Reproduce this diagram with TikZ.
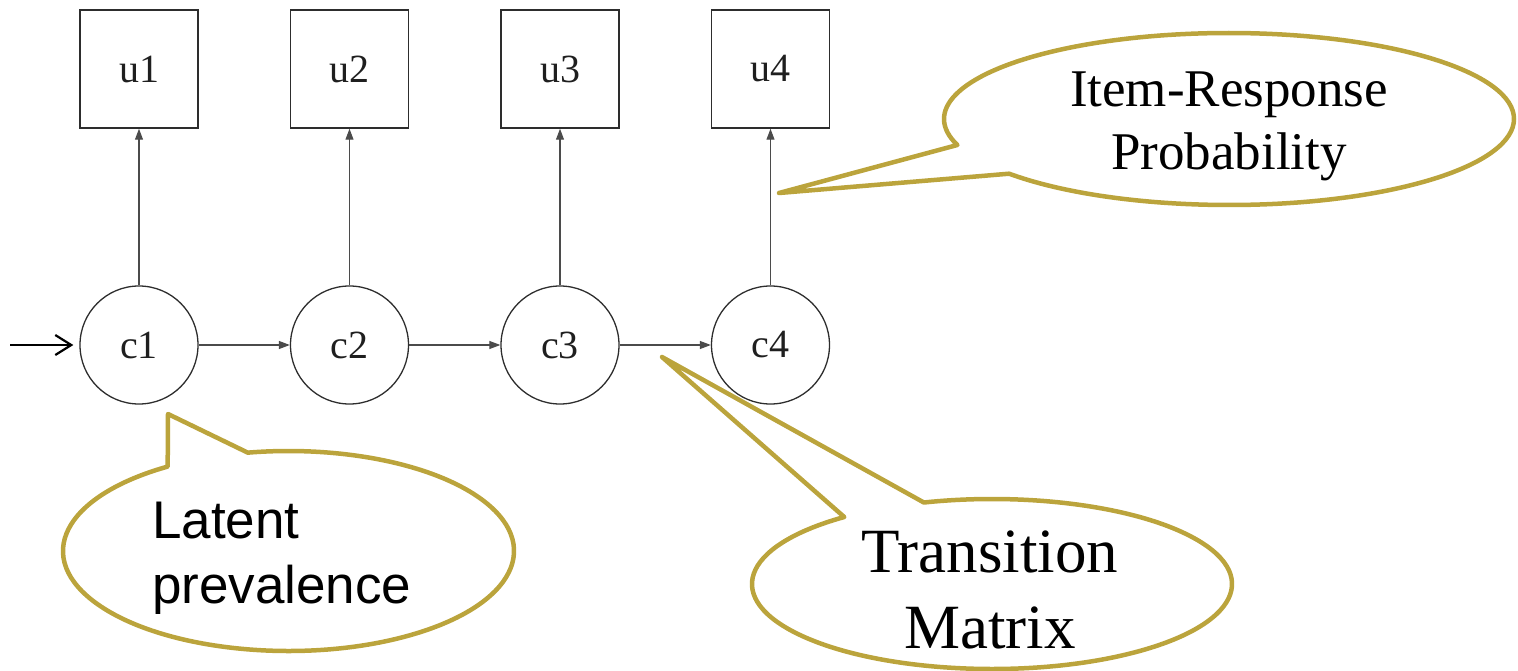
\documentclass[tikz,border=0pt]{standalone}
\usepackage{fontspec}
\setmainfont{Liberation Serif}
\newfontfamily\calloutsans{Liberation Sans}
\usetikzlibrary{arrows.meta}

\definecolor{calloutgold}{RGB}{187,164,60}
\definecolor{edgegray}{RGB}{75,75,75}
\definecolor{shapeline}{RGB}{45,45,45}

\tikzset{
  observed/.style={draw=shapeline, line width=1.5pt, minimum width=118pt,
    minimum height=118pt, inner sep=0pt, text=black!88,
    font=\fontsize{40}{40}\selectfont},
  latent/.style={circle, draw=shapeline, line width=1.3pt, minimum size=118pt,
    inner sep=0pt, text=black!88, font=\fontsize{40}{40}\selectfont},
  link/.style={draw=edgegray, line width=1.1pt,
    -{Triangle[length=11pt,width=8pt]}},
  entry/.style={draw=black, line width=2.2pt,
    -{Straight Barb[length=16pt,width=20pt]}, shorten >=6pt},
  bubble/.style={draw=calloutgold, line width=4.5pt, fill=white,
    line join=round},
  sanslabel/.style={inner sep=0pt, anchor=base west,
    font=\calloutsans\fontsize{53}{53}\selectfont},
  seriflabel/.style={inner sep=0pt, anchor=base},
}

% elliptical callout: #1 centre, #2 x radius, #3 y radius,
% #4/#5 angles where the pointer leaves the ellipse, #6 pointer tip
\newcommand\drawcallout[6]{%
  \path[bubble] (#1) ++(#4:#2pt and #3pt)
    arc[start angle=#4, end angle=#5, x radius=#2pt, y radius=#3pt]
    -- (#6) -- cycle;
}

\begin{document}
\begin{tikzpicture}[x=1pt, y=-1pt]
  \useasboundingbox (0,0) rectangle (1518,671);

  % observed indicators and latent class chain
  \foreach \i/\x in {1/139,2/349.5,3/560,4/770.5} {
    \node[observed] (u\i) at (\x,69) {u\i};
    \node[latent] (c\i) at (\x,345) {c\i};
    \draw[link] (c\i) -- (u\i);
  }
  \draw[link] (c1) -- (c2);
  \draw[link] (c2) -- (c3);
  \draw[link] (c3) -- (c4);

  \coordinate (start) at (10,345);
  \draw[entry] (start) -- (c1);

  % callouts
  \coordinate (lpTip) at (168,414);
  \coordinate (lpCentre) at (288.5,551);
  \drawcallout{lpCentre}{225.5}{100}{122.4}{460.4}{lpTip}
  \node[sanslabel] (lp1) at (152,538) {Latent};
  \node[sanslabel] (lp2) at (152,603) {prevalence};

  \coordinate (tmTip) at (662,357);
  \coordinate (tmCentre) at (992,584);
  \drawcallout{tmCentre}{240}{85}{128}{466.5}{tmTip}
  \node[seriflabel, font=\fontsize{63}{63}\selectfont] (tm1) at (990,572) {Transition};
  \node[seriflabel, font=\fontsize{63}{63}\selectfont] (tm2) at (990,648) {Matrix};

  \coordinate (irTip) at (779,193);
  \coordinate (irCentre) at (1229,119);
  \drawcallout{irCentre}{285}{86}{219.5}{557.6}{irTip}
  \node[seriflabel, font=\fontsize{53}{53}\selectfont] (ir1) at (1229,107) {Item-Response};
  \node[seriflabel, font=\fontsize{53}{53}\selectfont] (ir2) at (1229,170) {Probability};
\end{tikzpicture}
\end{document}
